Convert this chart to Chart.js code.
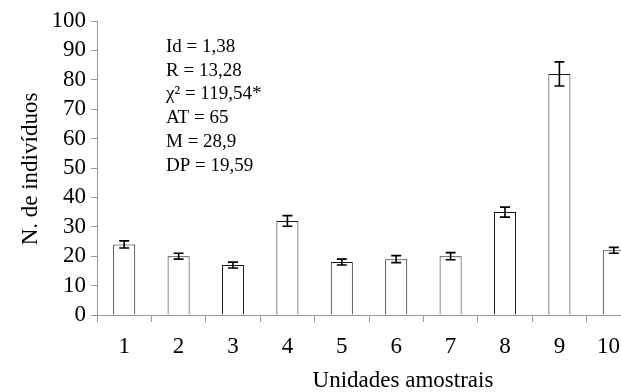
<!DOCTYPE html>
<html>
<head>
<meta charset="utf-8">
<script src="https://cdn.jsdelivr.net/npm/chart.js@4"></script>
<style>
  html, body { margin: 0; padding: 0; background: #fff; overflow: hidden; }
  #wrap { position: relative; width: 650px; height: 392px; }
</style>
</head>
<body>
<div id="wrap"><canvas id="c"></canvas></div>
<script>
const categories = ["1", "2", "3", "4", "5", "6", "7", "8", "9", "10"];
const counts = [24, 20, 17, 32, 18, 19, 20, 35, 82, 22];
const errors = [1.2, 1.0, 1.0, 1.8, 1.0, 1.2, 1.2, 1.7, 4.1, 1.0];
const yTicks = [0, 10, 20, 30, 40, 50, 60, 70, 80, 90, 100];
const statLines = ["Id = 1,38", "R = 13,28", "χ² = 119,54*", "AT = 65", "M = 28,9", "DP = 19,59"];
const yTitle = "N. de indivíduos";
const xTitle = "Unidades amostrais";

const FONT = "'Liberation Serif', 'Times New Roman', serif";

const errorBarPlugin = {
  id: 'errorBars',
  afterDatasetsDraw(chart) {
    const meta = chart.getDatasetMeta(0);
    const ys = chart.scales.y;
    const ctx = chart.ctx;
    ctx.save();
    ctx.strokeStyle = '#000';
    ctx.lineWidth = 1.6;
    meta.data.forEach((bar, i) => {
      const x = bar.x;
      const top = ys.getPixelForValue(counts[i] + errors[i]);
      const bot = ys.getPixelForValue(counts[i] - errors[i]);
      const cap = 5;
      ctx.beginPath();
      ctx.moveTo(x, top); ctx.lineTo(x, bot);
      ctx.moveTo(x - cap, top); ctx.lineTo(x + cap, top);
      ctx.moveTo(x - cap, bot); ctx.lineTo(x + cap, bot);
      ctx.stroke();
    });
    ctx.restore();
  }
};

const textPlugin = {
  id: 'texts',
  afterDraw(chart) {
    const ctx = chart.ctx;
    const ca = chart.chartArea;
    const xs = chart.scales.x;
    ctx.save();
    ctx.fillStyle = '#000';
    // category labels (kept inside the visible 621px window)
    ctx.font = "23px " + FONT;
    ctx.textAlign = 'center';
    ctx.textBaseline = 'alphabetic';
    categories.forEach((lab, i) => {
      const w = ctx.measureText(lab).width;
      let x = xs.getPixelForValue(i);
      if (x + w / 2 > 620) x = 620 - w / 2;
      ctx.fillText(lab, x, 353);
    });
    // stats block
    ctx.font = "19px " + FONT;
    ctx.textAlign = 'left';
    statLines.forEach((s, i) => {
      ctx.fillText(s, ca.left + 69, 52 + i * 23.7);
    });
    // axis titles
    ctx.font = "23px " + FONT;
    ctx.textAlign = 'center';
    ctx.fillText(xTitle, 403, 387);
    ctx.translate(37, 169);
    ctx.rotate(-Math.PI / 2);
    ctx.fillText(yTitle, 0, 0);
    ctx.restore();
  }
};

new Chart(document.getElementById('c'), {
  type: 'bar',
  data: {
    labels: categories,
    datasets: [{
      data: counts,
      backgroundColor: '#ffffff',
      borderColor: '#1a1a1a',
      borderWidth: 1,
      categoryPercentage: 1,
      barPercentage: 0.405
    }]
  },
  options: {
    responsive: true,
    maintainAspectRatio: false,
    animation: false,
    devicePixelRatio: 1,
    layout: { padding: { top: 21, right: 9, bottom: 0, left: 0 } },
    plugins: { legend: { display: false }, tooltip: { enabled: false } },
    scales: {
      x: {
        offset: true,
        grid: { display: true, offset: true, drawOnChartArea: false, drawTicks: true, tickLength: 7, color: '#999', lineWidth: 1 },
        border: { display: true, color: '#999', width: 1 },
        ticks: { display: false, autoSkip: false },
        afterFit(scale) { scale.height = 77; }
      },
      y: {
        min: 0, max: 100,
        afterBuildTicks(scale) { scale.ticks = yTicks.map(v => ({ value: v })); },
        grid: { display: true, drawOnChartArea: false, drawTicks: true, tickLength: 6, color: '#999', lineWidth: 1 },
        border: { display: true, color: '#999', width: 1 },
        ticks: { color: '#000', font: { family: FONT, size: 23 }, padding: 5, autoSkip: false },
        afterFit(scale) { scale.width = 97; }
      }
    }
  },
  plugins: [errorBarPlugin, textPlugin]
});
</script>
</body>
</html>
